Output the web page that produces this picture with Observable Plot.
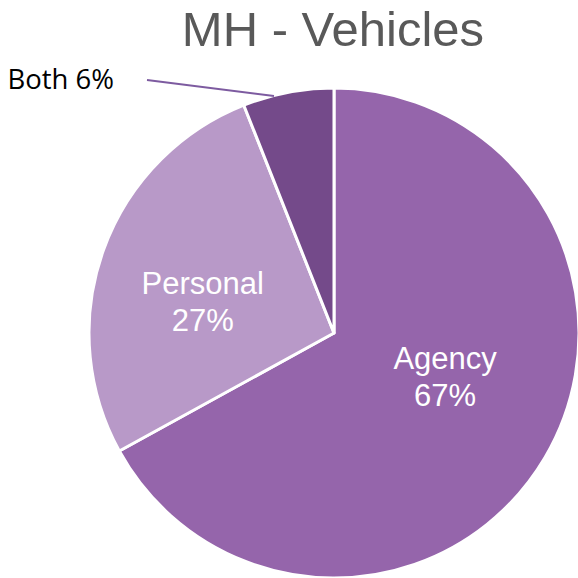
<!DOCTYPE html>
<html><head><meta charset="utf-8">
<script src="https://cdn.jsdelivr.net/npm/d3@7"></script>
<script src="https://cdn.jsdelivr.net/npm/@observablehq/plot@0.6"></script>
<style>
body{margin:0;background:#fff;}
#wrap{width:578px;height:578px;position:relative;overflow:hidden;}
#title{box-sizing:border-box;width:578px;height:58px;padding-left:88px;text-align:center;
  font-family:"Liberation Sans",Arial,sans-serif;font-size:49px;line-height:58px;color:#595959;margin:0;font-weight:normal;}
svg{display:block;}
</style>
</head><body>
<div id="wrap"><h2 id="title">MH - Vehicles</h2><div id="chart"></div></div>
<script>
// ---- data ----
const categories = ["Agency", "Personal", "Both"];
const values = [67, 27, 6];
const percentLabels = ["67%", "27%", "6%"];
const colors = ["#9565AB", "#B899C8", "#744A8A"];

// ---- layout constants ----
const W = 578, H = 520, titleH = 58;
const cxPage = 334, cyPage = 333, R = 245;
const xDomain = [(0 - cxPage) / R, (W - cxPage) / R];
const yDomain = [(cyPage - (titleH + H)) / R, (cyPage - titleH) / R];

const arcs = d3.pie().sort(null).value(d => d)(values);
const deg = Math.PI / 180;

// inside labels (Agency, Personal)
const labelR = 0.52, labelShift = -8 * deg;
const insideLabels = arcs.slice(0, 2).map((a, i) => {
  const m = (a.startAngle + a.endAngle) / 2 + labelShift;
  return {x: labelR * Math.sin(m), y: labelR * Math.cos(m), text: categories[i] + "\n" + percentLabels[i]};
});

// callout for Both
const bothArc = arcs[2];
const cm = (bothArc.startAngle + bothArc.endAngle) / 2 - 3.5 * deg;
const edge = {x: Math.sin(cm), y: Math.cos(cm)};
const calloutOffset = [-127, 16]; // pixels: left, up
const start = {x: edge.x + calloutOffset[0] / R, y: edge.y + calloutOffset[1] / R};
const callout = [{x1: start.x, y1: start.y, x2: edge.x, y2: edge.y, text: categories[2] + " " + percentLabels[2]}];

function pieMark(index, scales) {
  const x0 = scales.x(0), y0 = scales.y(0);
  const rad = scales.x(1) - scales.x(0);
  const arc = d3.arc().innerRadius(0).outerRadius(rad);
  const g = d3.create("svg:g").attr("transform", `translate(${x0},${y0})`);
  g.selectAll("path").data(arcs).join("path")
    .attr("d", arc)
    .attr("fill", d => colors[d.index])
    .attr("stroke", "white")
    .attr("stroke-width", 3)
    .attr("stroke-linejoin", "round");
  return g.node();
}

const chart = Plot.plot({
  width: W, height: H,
  margin: 0,
  x: {domain: xDomain, axis: null},
  y: {domain: yDomain, axis: null},
  style: {background: "transparent", overflow: "visible"},
  marks: [
    pieMark,
    Plot.text(insideLabels, {x: "x", y: "y", text: "text", fill: "white",
      fontSize: 31, fontFamily: "Liberation Sans, Arial, sans-serif",
      lineAnchor: "middle", lineHeight: 1.2, textAnchor: "middle", dx: -7, dy: -7}),
    Plot.link(callout, {x1: "x1", y1: "y1", x2: "x2", y2: "y2", stroke: "#7D5BA0", strokeWidth: 2}),
    Plot.text(callout, {x: "x1", y: "y1", text: "text", fill: "black",
      fontSize: 27.5, fontFamily: "Open Sans, sans-serif",
      textAnchor: "end", lineAnchor: "bottom", dx: -33, dy: 9})
  ]
});
document.getElementById("chart").appendChild(chart);
</script>
</body></html>
